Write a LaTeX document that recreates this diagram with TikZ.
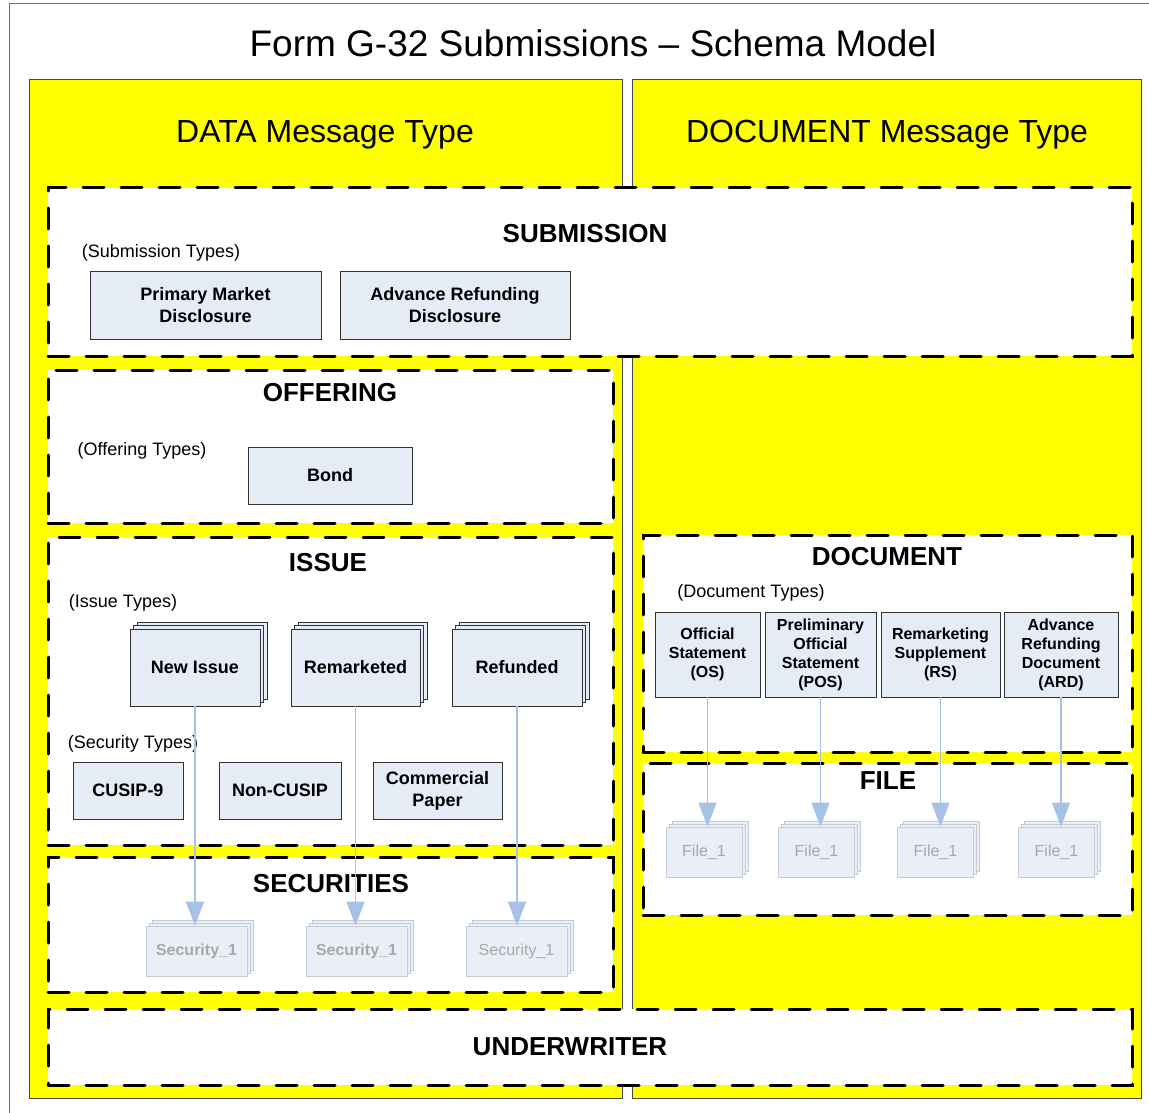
\documentclass[tikz,border=0pt]{standalone}
\usepackage{fontspec}
\setmainfont{Liberation Sans}
\usetikzlibrary{arrows.meta,shadows}
\definecolor{boxfill}{RGB}{230,236,246}
\definecolor{boxline}{RGB}{50,50,50}
\definecolor{fadefill}{RGB}{234,239,247}
\definecolor{fadeline}{RGB}{196,204,216}
\definecolor{fadetext}{RGB}{168,168,168}
\definecolor{arrowc}{RGB}{168,194,230}
\definecolor{panelyellow}{RGB}{255,255,0}
\definecolor{panelline}{RGB}{70,70,70}
\definecolor{frameline}{RGB}{110,110,110}
\begin{document}
\begin{tikzpicture}[x=1pt,y=-1pt,
  panel/.style={draw=panelline, fill=panelyellow, line width=1pt},
  sec/.style={draw=black, fill=white, line width=3pt, dash pattern=on 21pt off 17pt, line cap=round, inner sep=0pt, rectangle},
  seclabel/.style={font=\fontsize{26}{30}\selectfont\bfseries, inner sep=0pt},
  heading/.style={font=\fontsize{32}{36}\selectfont, inner sep=0pt},
  typelabel/.style={font=\fontsize{18}{22}\selectfont, inner sep=0pt},
  typebox/.style={draw=boxline, fill=boxfill, line width=0.8pt, font=\fontsize{18}{22}\selectfont\bfseries, align=center, inner sep=0pt},
  docbox/.style={typebox, font=\fontsize{16}{19}\selectfont\bfseries},
  stackbox/.style={typebox,
    copy shadow={shadow xshift=7pt, shadow yshift=7pt, draw=boxline, fill=boxfill, line width=0.8pt},
    copy shadow={shadow xshift=3.5pt, shadow yshift=3.5pt, draw=boxline, fill=boxfill, line width=0.8pt}},
  fadebox/.style={draw=fadeline, fill=fadefill, line width=0.8pt, text=fadetext, font=\fontsize{16}{19}\selectfont, align=center, inner sep=0pt,
    copy shadow={shadow xshift=6pt, shadow yshift=6pt, draw=fadeline, fill=fadefill, line width=0.8pt},
    copy shadow={shadow xshift=3pt, shadow yshift=3pt, draw=fadeline, fill=fadefill, line width=0.8pt}},
  fadebold/.style={fadebox, font=\fontsize{16}{19}\selectfont\bfseries},
  arr/.style={draw=arrowc, line width=1.3pt, -{Triangle[width=18pt,length=24pt,fill=arrowc]}}
]
\useasboundingbox (0,0) rectangle (1149,1113);
\fill[white] (0,0) rectangle (1149,1113);
% outer frame
\draw[frameline, line width=0.8pt] (9,3) rectangle (1170,1130);
% title
\node[font=\fontsize{37}{42}\selectfont, inner sep=0pt] (title) at (593,43) {Form G-32 Submissions – Schema Model};
% panels
\draw[panel] (29,80) rectangle (622,1098);
\draw[panel] (632,80) rectangle (1141,1098);
\node[heading] (hdata) at (325,135) {DATA Message Type};
\node[heading] (hdoc) at (887,135) {DOCUMENT Message Type};

% sections
\node[sec, minimum width=1084pt, minimum height=168pt] (submission) at (590,272) {};
\node[sec, minimum width=565pt, minimum height=153pt] (offering) at (330.5,446.5) {};
\node[sec, minimum width=565pt, minimum height=308pt] (issue) at (330.5,691) {};
\node[sec, minimum width=565pt, minimum height=135pt] (securities) at (330.5,924.5) {};
\node[sec, minimum width=489pt, minimum height=217pt] (document) at (887.5,643.5) {};
\node[sec, minimum width=489pt, minimum height=152pt] (file) at (887.5,839) {};
\node[sec, minimum width=1084pt, minimum height=76pt] (underwriter) at (590,1047) {};

\node[seclabel] (lsub) at (585,234) {SUBMISSION};
\node[seclabel] (loff) at (330,393) {OFFERING};
\node[seclabel] (liss) at (328,563) {ISSUE};
\node[seclabel] (lsec) at (331,884) {SECURITIES};
\node[seclabel] (ldoc) at (887,557) {DOCUMENT};
\node[seclabel] (lfile) at (888,781) {FILE};
\node[seclabel] (lund) at (570,1047) {UNDERWRITER};

% type labels
\node[typelabel] (tsub) at (161,252.5) {(Submission Types)};
\node[typelabel] (toff) at (142,450.5) {(Offering Types)};
\node[typelabel] (tiss) at (123,602.5) {(Issue Types)};
\node[typelabel] (tsecu) at (133,743.5) {(Security Types)};
\node[typelabel] (tdoc) at (751,592.5) {(Document Types)};

% submission types
\node[typebox, minimum width=231pt, minimum height=68pt] (pmd) at (205.5,305) {Primary Market\\Disclosure};
\node[typebox, minimum width=230pt, minimum height=68pt] (ard) at (455,305) {Advance Refunding\\Disclosure};
% offering types
\node[typebox, minimum width=164pt, minimum height=57pt] (bond) at (330,475.5) {Bond};
% issue types
\node[stackbox, minimum width=130pt, minimum height=77pt] (newissue) at (195,667.5) {New Issue};
\node[stackbox, minimum width=129pt, minimum height=77pt] (remarketed) at (355.5,667.5) {Remarketed};
\node[stackbox, minimum width=130pt, minimum height=77pt] (refunded) at (517,667.5) {Refunded};
% security types
\node[typebox, minimum width=110pt, minimum height=57pt] (cusip) at (128,790.5) {CUSIP-9};
\node[typebox, minimum width=122pt, minimum height=57pt] (noncusip) at (280,790.5) {Non-CUSIP};
\node[typebox, minimum width=129pt, minimum height=57pt] (cp) at (437.5,790.5) {Commercial\\Paper};
% securities
\node[fadebold, minimum width=101pt, minimum height=50pt] (sec1) at (196.5,951) {Security\_1};
\node[fadebold, minimum width=101pt, minimum height=50pt] (sec2) at (356.5,951) {Security\_1};
\node[fadebox, minimum width=101pt, minimum height=50pt] (sec3) at (516.5,951) {Security\_1};
% document types
\node[docbox, minimum width=105pt, minimum height=85pt] (os) at (707.5,654.5) {Official\\Statement\\(OS)};
\node[docbox, minimum width=111pt, minimum height=85pt] (pos) at (820.5,654.5) {Preliminary\\Official\\Statement\\(POS)};
\node[docbox, minimum width=119pt, minimum height=85pt] (rs) at (940.5,654.5) {Remarketing\\Supplement\\(RS)};
\node[docbox, minimum width=114pt, minimum height=85pt] (ardoc) at (1061,654.5) {Advance\\Refunding\\Document\\(ARD)};
% files
\node[fadebox, minimum width=76pt, minimum height=50pt] (f1) at (704,852) {File\_1};
\node[fadebox, minimum width=76pt, minimum height=50pt] (f2) at (816.5,852) {File\_1};
\node[fadebox, minimum width=76pt, minimum height=50pt] (f3) at (935.5,852) {File\_1};
\node[fadebox, minimum width=76pt, minimum height=50pt] (f4) at (1056.5,852) {File\_1};

% arrows
\draw[arr] (newissue.south) -- (newissue.south |- sec1.north);
\draw[arr] (remarketed.south) -- (remarketed.south |- sec2.north);
\draw[arr] (refunded.south) -- (refunded.south |- sec3.north);
\draw[arr] (os.south) -- (os.south |- f1.north);
\draw[arr] (pos.south) -- (pos.south |- f2.north);
\draw[arr] (rs.south) -- (rs.south |- f3.north);
\draw[arr] (ardoc.south) -- (ardoc.south |- f4.north);
\end{tikzpicture}
\end{document}
